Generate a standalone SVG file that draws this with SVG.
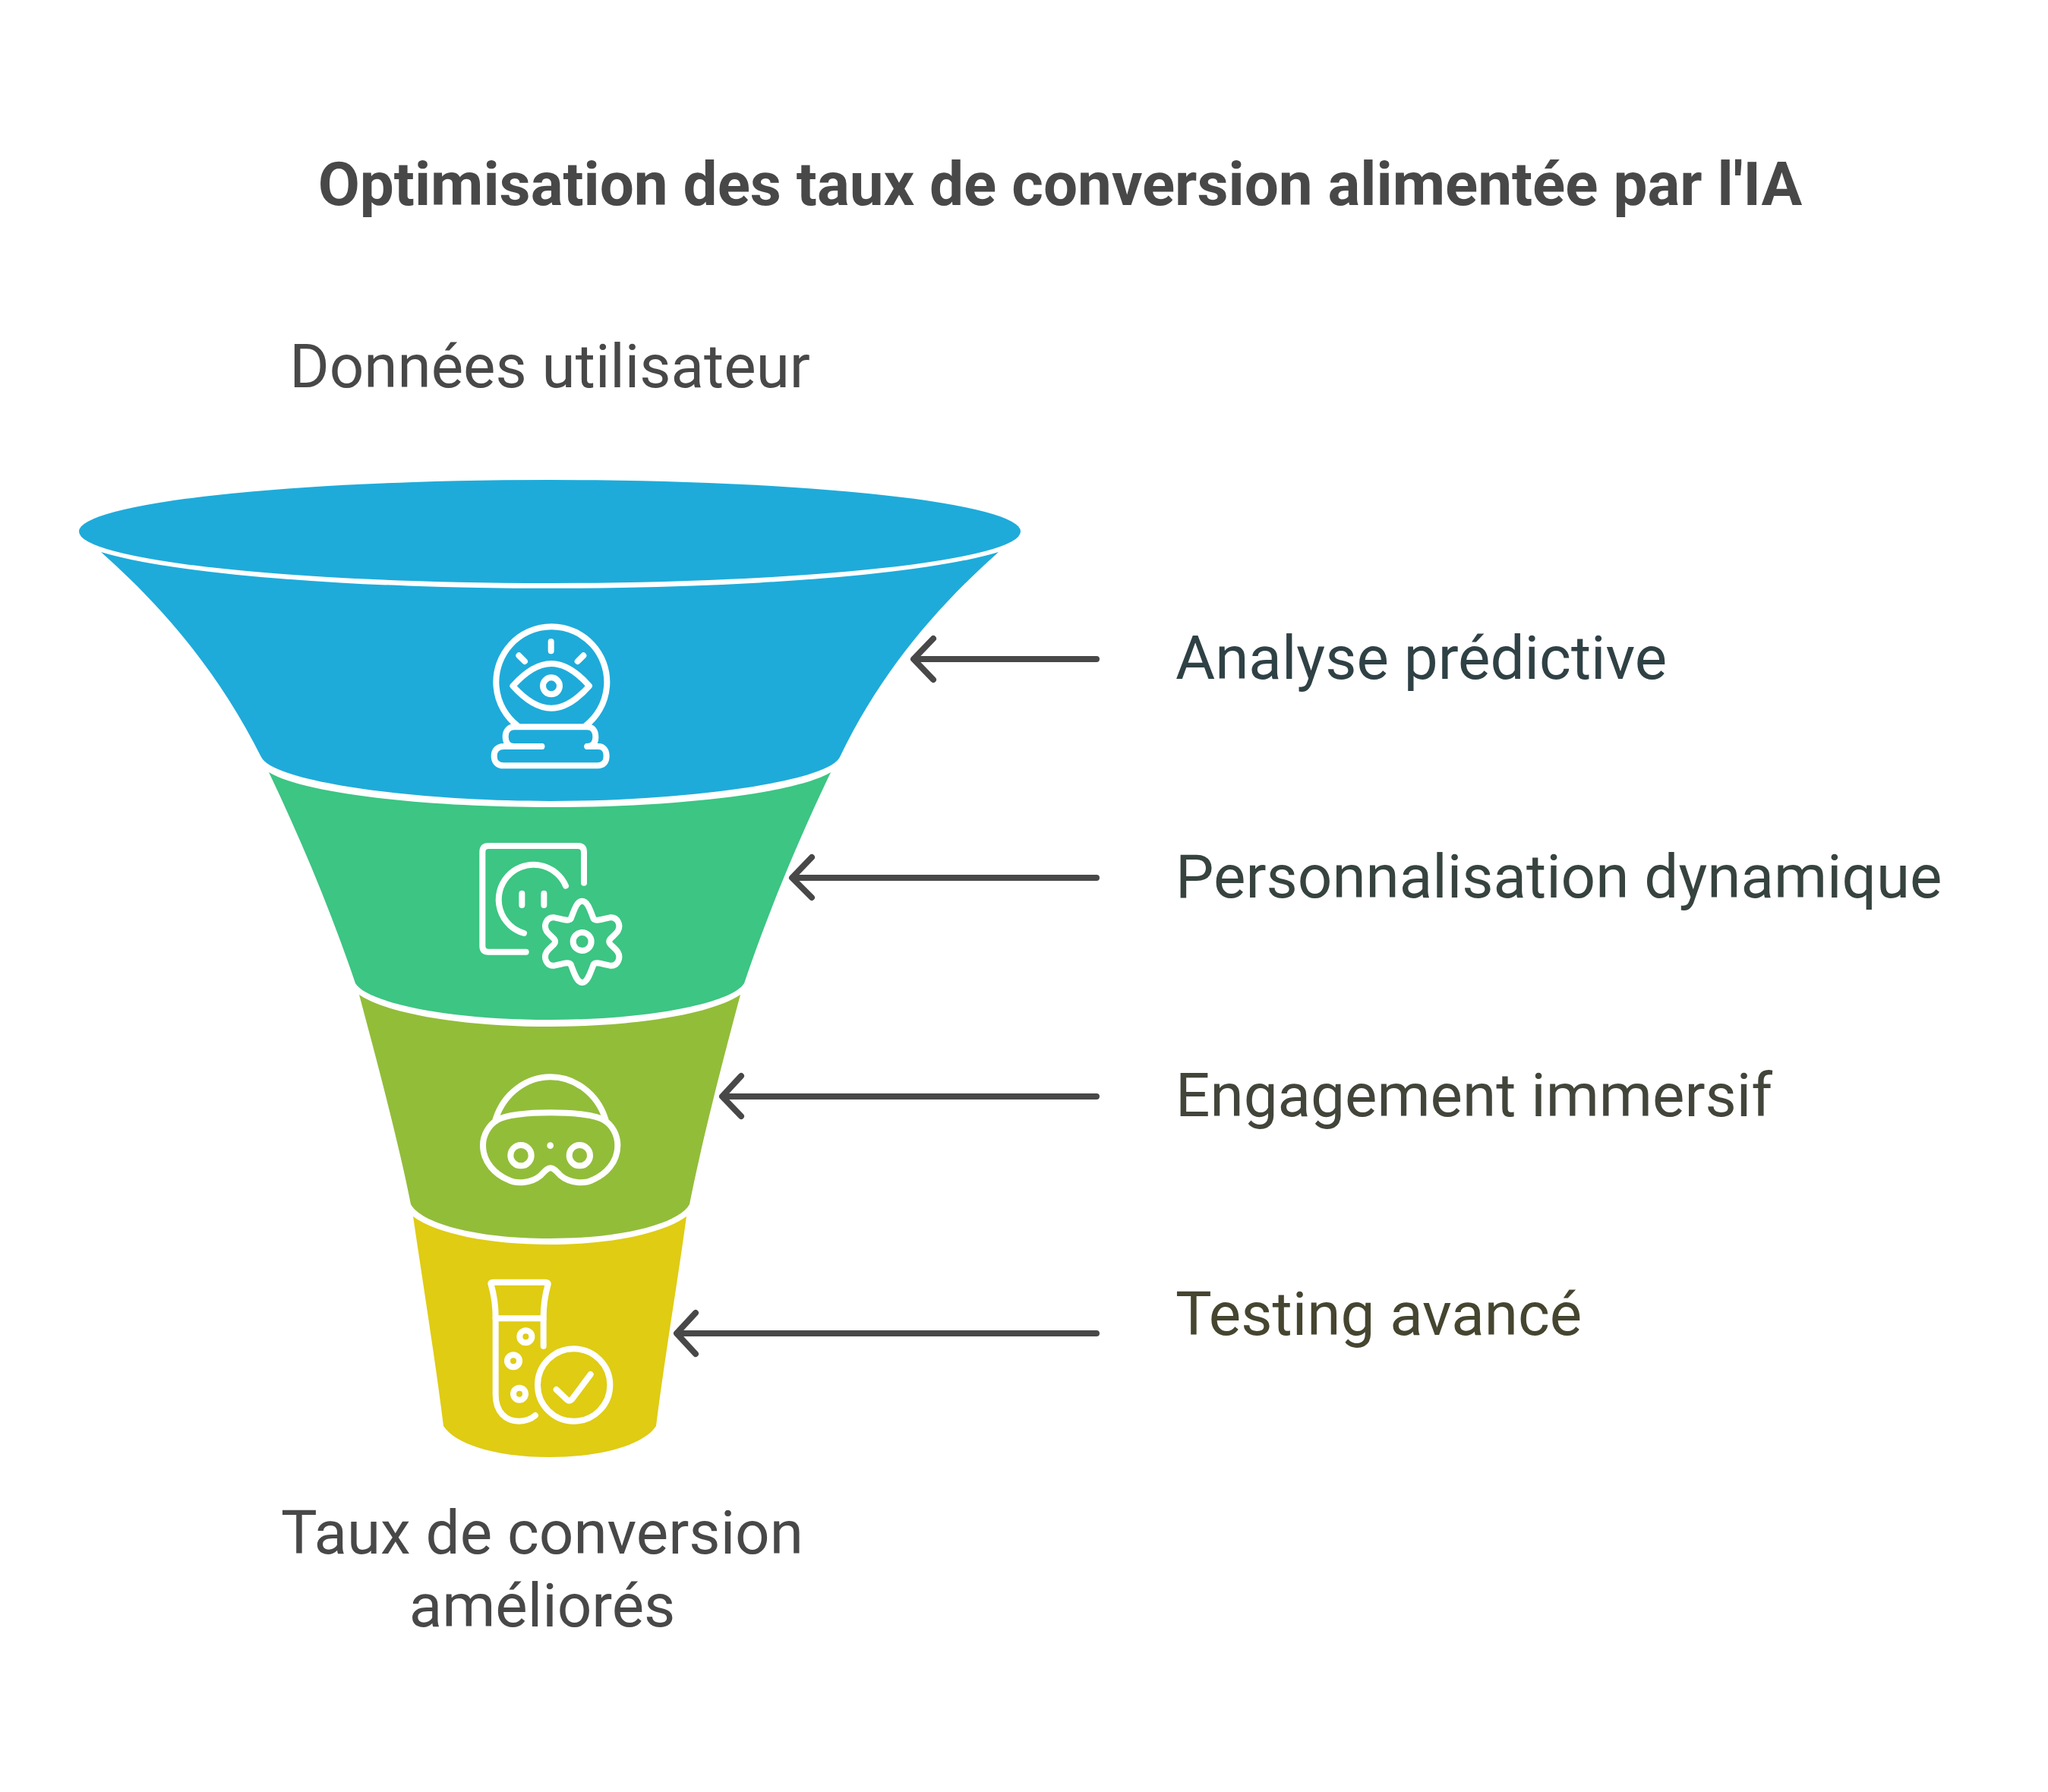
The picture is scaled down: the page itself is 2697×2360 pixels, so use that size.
<svg xmlns="http://www.w3.org/2000/svg" width="2697" height="2360" viewBox="0 0 2697 2360">
<defs><style>
text{font-family:Roboto,"Liberation Sans",sans-serif;font-size:80px;fill:#484848}
.t{font-weight:700}
.i{fill:none;stroke:#fff;stroke-width:24;stroke-linecap:round;stroke-linejoin:round}
.a{fill:none;stroke:#484848;stroke-width:8;stroke-linecap:round;stroke-linejoin:round}
</style></defs>
<rect width="2697" height="2360" fill="#fff"/>
<text id="title" class="t" x="1396" y="270" text-anchor="middle">Optimisation des taux de conversion alimentée par l'IA</text>
<g id="input"><text x="724" y="510" text-anchor="middle">Données utilisateur</text></g>
<g id="output"><text x="714" y="2046" text-anchor="middle">Taux de conversion</text>
<text x="714" y="2142" text-anchor="middle">améliorés</text></g>
<g id="segment-1">
<ellipse cx="724" cy="700" rx="620" ry="68" fill="#1eabda"/>
<path d="M133 727A634 75 0 0 0 1315 727C1233 800 1160 885 1106 997C1090 1030 900 1055 724 1055C548 1055 360 1030 344 997C288 885 215 800 133 727Z" fill="#1eabda"/>
<g transform="translate(600 800) scale(.33333)" class="i">
<path d="M245 468A219 219 0 1 1 513 468"/>
<path d="M340 549H230C205 549 197 530 197 510C197 490 208 472 232 472H520C545 472 553 492 553 512C553 532 545 549 520 549"/>
<path d="M340 549H190C165 549 152 565 152 587C152 610 165 625 190 625H560C585 625 596 610 596 587C596 565 585 549 565 549H520"/>
<path d="M377 135V172M250 190L273 213M505 190L482 213"/>
<path d="M226 310C280 250 330 222 378 222C425 222 475 250 528 310C475 370 425 398 378 398C330 398 280 370 226 310Z"/>
<circle cx="378" cy="310" r="33"/>
</g>
</g>
<g id="segment-2">
<path d="M354 1017C400 1045 560 1063 724 1063C888 1063 1048 1045 1094 1017C1052 1105 1012 1200 980 1295C965 1320 860 1343 724 1343C588 1343 483 1320 468 1295C436 1200 396 1105 354 1017Z" fill="#3cc583"/>
<g transform="translate(600 1090) scale(.33333)" class="i">
<path d="M278 491H130Q106 491 106 467V96Q106 72 130 72H482Q507 72 507 96V218"/>
<path d="M270 417A138 138 0 1 1 435 230"/>
<path d="M262 260V306M349 260V306"/>
<path d="M455 360C470 320 480 290 500 290C520 290 530 320 545 360C555 372 580 360 610 355C640 352 655 385 640 410C625 430 605 440 607 450C605 460 625 470 640 490C655 515 640 548 610 545C580 540 555 528 545 540C530 580 520 612 500 612C480 612 470 580 455 540C445 528 420 540 390 545C360 548 345 515 360 490C375 470 395 460 393 450C395 440 375 430 360 410C345 385 360 352 390 355C420 360 445 372 455 360Z"/>
<circle cx="500" cy="450" r="36"/>
</g>
</g>
<g id="segment-3">
<path d="M473 1310C510 1335 610 1352 724 1352C838 1352 938 1335 975 1310C955 1385 925 1500 908 1586C895 1610 825 1631 724 1631C623 1631 554 1610 541 1586C524 1500 493 1385 473 1310Z" fill="#92bd39"/>
<g transform="translate(600 1400) scale(.33333)" class="i">
<path d="M165 225C220 186 530 186 585 225C620 245 640 285 640 325C640 395 590 440 545 460C510 480 450 475 415 445C400 430 390 415 375 415C360 415 350 430 335 445C300 475 240 480 205 460C160 440 108 395 108 325C108 285 130 245 165 225Z"/>
<path d="M158 222C190 120 280 55 375 55C470 55 560 120 592 222"/>
<circle cx="258" cy="365" r="41"/>
<circle cx="490" cy="365" r="41"/>
<circle cx="374" cy="326" r="13" style="fill:#fff;stroke:none"/>
</g>
</g>
<g id="segment-4">
<path d="M544 1602C575 1625 645 1639 724 1639C803 1639 872 1625 904 1602C892 1690 875 1790 864 1878C850 1900 800 1919 724 1919C648 1919 598 1900 584 1878C573 1790 557 1690 544 1602Z" fill="#dfcc13"/>
<g transform="translate(600 1670) scale(.33333)" class="i">
<path d="M158 195C158 150 150 100 140 65Q136 56 148 56H355Q367 56 365 65C355 100 347 150 347 195V308"/>
<path d="M158 195V500C158 570 200 605 250 605C280 605 300 595 315 582"/>
<path d="M158 199H347"/>
<circle cx="277" cy="271" r="24"/>
<circle cx="228" cy="367" r="24"/>
<circle cx="252" cy="497" r="24"/>
<circle cx="467" cy="462" r="143"/>
<path d="M398 480L440 520Q450 528 460 518L533 420"/>
</g>
</g>
<g id="connectors">
<path class="a" d="M1444 868H1205M1229 841L1203 868L1229 895"/>
<path class="a" d="M1444 1156H1044M1069 1129L1043 1156L1069 1182"/>
<path class="a" d="M1444 1444H952M976 1417L951 1444L976 1470"/>
<path class="a" d="M1444 1756H892M916 1729L891 1756L916 1783"/>
</g>
<g id="label-1"><text x="1548" y="894" style="fill:#2f4145">Analyse prédictive</text></g>
<g id="label-2"><text x="1548" y="1182" style="fill:#36433f">Personnalisation dynamique</text></g>
<g id="label-3"><text x="1548" y="1470" style="fill:#42453a">Engagement immersif</text></g>
<g id="label-4"><text x="1548" y="1758" style="fill:#454530">Testing avancé</text></g>
</svg>
